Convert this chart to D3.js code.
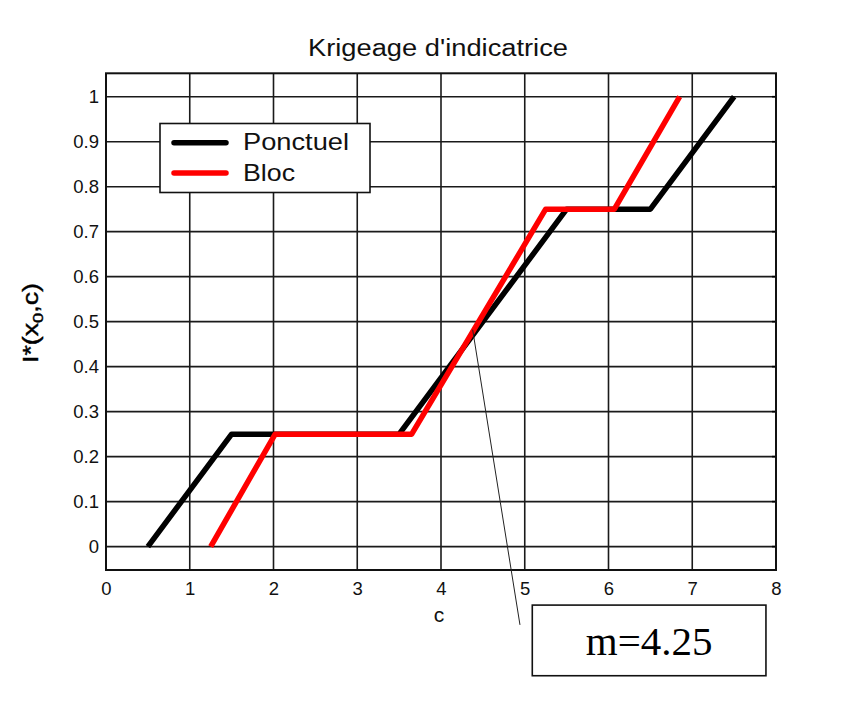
<!DOCTYPE html>
<html>
<head>
<meta charset="utf-8">
<script src="https://cdn.jsdelivr.net/npm/d3@7"></script>
<style>
html,body{margin:0;padding:0;background:#fff;}
svg{display:block;}
</style>
</head>
<body>
<svg id="chart" width="853" height="706"></svg>
<script>
// ---- data ----
const title = "Krigeage d'indicatrice";
const xTicks = [0,1,2,3,4,5,6,7,8];
const yTicks = [0,0.1,0.2,0.3,0.4,0.5,0.6,0.7,0.8,0.9,1];
const yTickLabels = ["0","0.1","0.2","0.3","0.4","0.5","0.6","0.7","0.8","0.9","1"];
const seriesNames = ["Ponctuel","Bloc"];
const seriesColors = ["#000000","#ff0000"];
const ponctuelX = [0.5, 1.5, 2.0, 3.5, 5.5, 6.5, 7.5];
const ponctuelY = [0, 0.25, 0.25, 0.25, 0.75, 0.75, 1];
const blocX = [1.25, 2.02, 3.65, 5.25, 6.07, 6.85];
const blocY = [0, 0.25, 0.25, 0.75, 0.75, 1];
const annotationText = "m=4.25";
const annotationFrom = [4.378, 0.482];   // data units
const annotationTo = [4.943, -0.174];
const annotationBox = [5.09, -0.13, 7.88, -0.287]; // x0,y0,x1,y1 data units

(function () {
// ---- layout ----
const svg = d3.select("#chart");
const pL = 106, pR = 776, pT = 73.3, pB = 570;
const x = d3.scaleLinear().domain([0, 8]).range([pL, pR]);
const y = d3.scaleLinear().domain([-0.052, 1.052]).range([pB, pT]);
const sans = "'Liberation Sans', Arial, sans-serif";

// plot background
svg.append("rect").attr("x", pL).attr("y", pT)
  .attr("width", pR-pL).attr("height", pB-pT).attr("fill", "#fff");

// grid
svg.append("g").selectAll("line").data(xTicks.slice(1, -1)).join("line")
  .attr("x1", d => x(d)).attr("x2", d => x(d))
  .attr("y1", pT).attr("y2", pB)
  .attr("stroke", "#1a1a1a").attr("stroke-width", 1.6);
svg.append("g").selectAll("line").data(yTicks).join("line")
  .attr("x1", pL).attr("x2", pR)
  .attr("y1", d => y(d)).attr("y2", d => y(d))
  .attr("stroke", "#1a1a1a").attr("stroke-width", 1.6);

// axes (labels only)
const xAxis = d3.axisBottom(x).tickValues(xTicks).tickSize(0).tickPadding(12).tickFormat(d3.format("d"));
const gx = svg.append("g").attr("transform", `translate(0,${pB})`).call(xAxis);
gx.select(".domain").remove();
gx.selectAll("text").attr("font-family", sans).attr("font-size", 18.5).attr("fill", "#111");

const yAxis = d3.axisLeft(y).tickValues(yTicks).tickSize(0).tickPadding(7)
  .tickFormat((d, i) => yTickLabels[i]);
const gy = svg.append("g").attr("transform", `translate(${pL},0)`).call(yAxis);
gy.select(".domain").remove();
gy.selectAll("text").attr("font-family", sans).attr("font-size", 18.5).attr("fill", "#111");

// small right-side ticks
svg.append("g").selectAll("line").data(yTicks).join("line")
  .attr("x1", pR-4).attr("x2", pR)
  .attr("y1", d => y(d)).attr("y2", d => y(d))
  .attr("stroke", "#000").attr("stroke-width", 1.6);

// series
const line = d3.line().x(d => x(d[0])).y(d => y(d[1]));
const series = [
  d3.zip(ponctuelX, ponctuelY),
  d3.zip(blocX, blocY)
];
series.forEach((s, i) => {
  svg.append("path").datum(s).attr("d", line)
    .attr("fill", "none").attr("stroke", seriesColors[i])
    .attr("stroke-width", 5.5).attr("stroke-linejoin", "round");
});

// frame
svg.append("rect").attr("x", pL).attr("y", pT)
  .attr("width", pR-pL).attr("height", pB-pT)
  .attr("fill", "none").attr("stroke", "#111").attr("stroke-width", 2);

// title
svg.append("text").attr("x", (pL+pR)/2 - 3).attr("y", 56)
  .attr("text-anchor", "middle").attr("font-family", sans).attr("font-size", 23)
  .attr("fill", "#111").attr("textLength", 260).attr("lengthAdjust", "spacingAndGlyphs")
  .text(title);

// x label
svg.append("text").attr("x", 439).attr("y", 622)
  .attr("text-anchor", "middle").attr("font-family", sans).attr("font-size", 21)
  .attr("fill", "#111").text("c");

// y label
const yl = svg.append("text").attr("transform", "translate(38,323) rotate(-90)")
  .attr("text-anchor", "middle").attr("font-family", sans).attr("font-size", 22)
  .attr("fill", "#000").attr("stroke", "#000").attr("stroke-width", 0.4)
  .attr("textLength", 80).attr("lengthAdjust", "spacingAndGlyphs");
yl.append("tspan").text("I*(x");
yl.append("tspan").attr("font-size", 15).attr("dy", 5).text("0");
yl.append("tspan").attr("dy", -5).text(",c)");

// legend
const lg = svg.append("g");
lg.append("rect").attr("x", 160).attr("y", 123.5).attr("width", 210).attr("height", 69)
  .attr("fill", "#fff").attr("stroke", "#111").attr("stroke-width", 1.6);
const legendY = [142.7, 173];
const legendTextLen = [106, 52];
seriesNames.forEach((n, i) => {
  lg.append("line").attr("x1", 174).attr("x2", 226)
    .attr("y1", legendY[i]).attr("y2", legendY[i])
    .attr("stroke", seriesColors[i]).attr("stroke-width", 5.5).attr("stroke-linecap", "round");
  lg.append("text").attr("x", 243).attr("y", legendY[i] + 7.5)
    .attr("font-family", sans).attr("font-size", 24).attr("fill", "#111")
    .attr("textLength", legendTextLen[i]).attr("lengthAdjust", "spacingAndGlyphs")
    .text(n);
});

// annotation
svg.append("line")
  .attr("x1", x(annotationFrom[0])).attr("y1", y(annotationFrom[1]))
  .attr("x2", x(annotationTo[0])).attr("y2", y(annotationTo[1]))
  .attr("stroke", "#222").attr("stroke-width", 1);
const bx0 = x(annotationBox[0]), by0 = y(annotationBox[1]);
const bx1 = x(annotationBox[2]), by1 = y(annotationBox[3]);
svg.append("rect").attr("x", bx0).attr("y", by0)
  .attr("width", bx1 - bx0).attr("height", by1 - by0)
  .attr("fill", "#fff").attr("stroke", "#111").attr("stroke-width", 1.6);
svg.append("text").attr("x", (bx0 + bx1)/2).attr("y", 655)
  .attr("text-anchor", "middle").attr("font-family", "'Liberation Serif', 'Times New Roman', serif")
  .attr("font-size", 41).attr("fill", "#000").text(annotationText);
})();
</script>
</body>
</html>
